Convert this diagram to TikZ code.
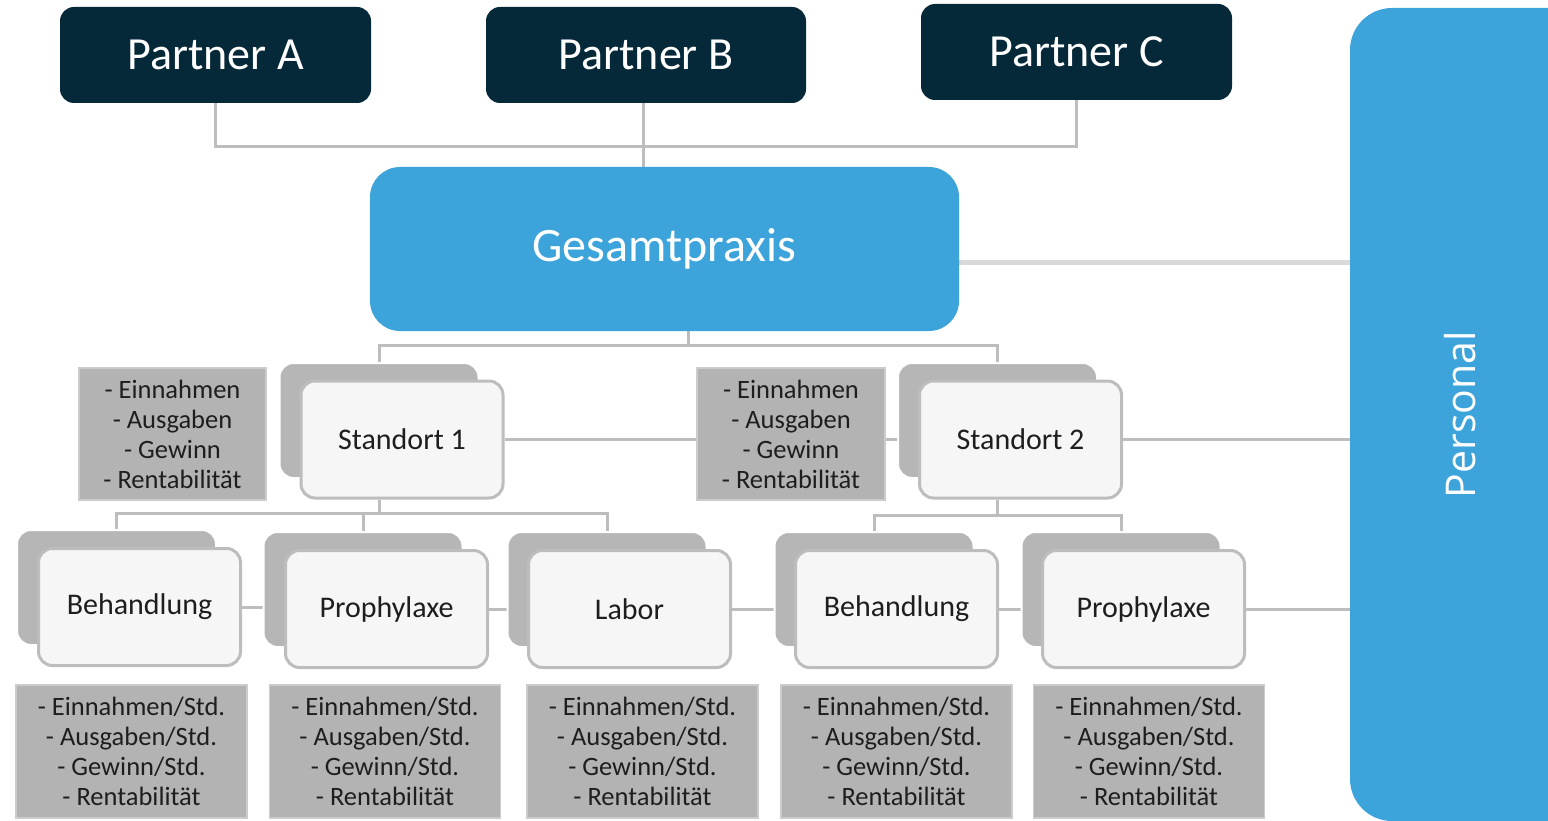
\documentclass[tikz,border=0pt]{standalone}
\usepackage{fontspec}
\setmainfont{Carlito}
\newfontfamily\persfont{Open Sans}
\usetikzlibrary{backgrounds}
\definecolor{navy}{HTML}{06293A}
\definecolor{skyblue}{HTML}{3DA4DB}
\definecolor{shadowgray}{HTML}{B6B6B6}
\definecolor{boxgray}{HTML}{B3B3B3}
\definecolor{linegray}{HTML}{BDBDBD}
\definecolor{frontfill}{HTML}{F6F6F6}
\definecolor{textdark}{HTML}{1E1E1E}

\begin{document}
\begin{tikzpicture}[x=1pt,y=-1pt,
  partner node/.style={rectangle,rounded corners=14pt,fill=navy,text=white,
    minimum width=311pt,minimum height=96pt,font=\fontsize{46}{50}\selectfont},
  main node/.style={rectangle,rounded corners=30pt,fill=skyblue,text=white,
    minimum width=589pt,minimum height=164pt,font=\fontsize{48}{52}\selectfont},
  back node/.style={rectangle,rounded corners=14pt,fill=shadowgray,draw=white,line width=2pt,
    minimum width=199pt,minimum height=115pt},
  front node/.style={rectangle,rounded corners=14pt,fill=frontfill,draw=linegray,line width=3pt,
    minimum width=202pt,minimum height=117pt,text=textdark,font=\fontsize{30}{34}\selectfont},
  info node/.style={rectangle,fill=boxgray,draw=shadowgray!70,line width=1.5pt,align=center,
    text=textdark,font=\fontsize{26.5}{30}\selectfont},
  con/.style={draw=linegray,line width=3pt}]

  \useasboundingbox (0,0) rectangle (1548,821);
  \clip (0,0) rectangle (1548,821);

  \node[partner node] (pa) at (215.5,55) {Partner A};
  \node[partner node,minimum width=320pt] (pb) at (646,55) {Partner B};
  \node[partner node] (pc) at (1076.5,52) {Partner C};
  \node[main node] (gp) at (664.5,249) {Gesamtpraxis};
  \node[rectangle,rounded corners=42pt,fill=skyblue,minimum width=400pt,minimum height=813pt]
    (per) at (1550,414.5) {};
  \node[text=white,rotate=90,font=\persfont\fontsize{41}{46}\selectfont]
    (pertext) at (1460,414.5) {Personal};

  \node[back node] (s1b) at (379,420.5) {};
  \node[front node] (s1) at (402,439.5) {Standort 1};
  \node[back node] (s2b) at (997.5,420.5) {};
  \node[front node] (s2) at (1020.5,439.5) {Standort 2};

  \node[info node,minimum width=187pt,minimum height=132pt] (i1) at (172.5,434)
    {- Einnahmen\\- Ausgaben\\- Gewinn\\- Rentabilität};
  \node[info node,minimum width=188pt,minimum height=132pt] (i2) at (791,434)
    {- Einnahmen\\- Ausgaben\\- Gewinn\\- Rentabilität};

  \node[back node] (b1b) at (116.5,587.5) {};
  \node[front node] (b1) at (139.5,607) {Behandlung};
  \node[back node] (p1b) at (363,589.5) {};
  \node[front node] (p1) at (386.5,609) {Prophylaxe};
  \node[back node] (lb) at (607,589.5) {};
  \node[front node] (l) at (629.5,609) {Labor};
  \node[back node] (b2b) at (874,589.5) {};
  \node[front node] (b2) at (896.5,609) {Behandlung};
  \node[back node] (p2b) at (1121,589.5) {};
  \node[front node] (p2) at (1143.5,609) {Prophylaxe};

  \node[info node,minimum width=231pt,minimum height=133pt] (k1) at (131.5,751.5)
    {- Einnahmen/Std.\\- Ausgaben/Std.\\- Gewinn/Std.\\- Rentabilität};
  \node[info node,minimum width=231pt,minimum height=133pt] (k2) at (385,751.5)
    {- Einnahmen/Std.\\- Ausgaben/Std.\\- Gewinn/Std.\\- Rentabilität};
  \node[info node,minimum width=231pt,minimum height=133pt] (k3) at (642.5,751.5)
    {- Einnahmen/Std.\\- Ausgaben/Std.\\- Gewinn/Std.\\- Rentabilität};
  \node[info node,minimum width=231pt,minimum height=133pt] (k4) at (896.5,751.5)
    {- Einnahmen/Std.\\- Ausgaben/Std.\\- Gewinn/Std.\\- Rentabilität};
  \node[info node,minimum width=231pt,minimum height=133pt] (k5) at (1149,751.5)
    {- Einnahmen/Std.\\- Ausgaben/Std.\\- Gewinn/Std.\\- Rentabilität};

  \coordinate (jp) at (643,147);
  \coordinate (jg) at (688,345);
  \coordinate (j1) at (379,513);
  \coordinate (j2) at (997.5,515);
  \coordinate (gpr) at (959,263);

  \begin{scope}[on background layer]
  \draw[con] (pa.south) |- (jp) -| (pc.south);
  \draw[con] (jp |- pb.south) -- (jp |- gp.north);
  \draw[con] (jg |- gp.south) -- (jg);
  \draw[con] (s1b.north) |- (jg) -| (s2b.north);
  \draw[con] (j1 |- s1.south) -- (j1);
  \draw[con] (b1b.north) |- (j1) -| (lb.north);
  \draw[con] (j1 -| p1b.north) -- (p1b.north);
  \draw[con] (j2 |- s2.south) -- (j2);
  \draw[con] (b2b.north) |- (j2) -| (p2b.north);
  \draw[draw=black!15,line width=5pt] (gpr) -- (gpr -| per.west);
  \path[con]
   (s1.east) edge (s1.east -| i2.west)
   (i2.east |- s1.east) edge (s1.east -| s2b.west)
   (s2.east) edge (s2.east -| per.west)
   (b1.east) edge (b1.east -| p1b.west)
   (p1.east) edge (p1.east -| lb.west)
   (l.east) edge (l.east -| b2b.west)
   (b2.east) edge (b2.east -| p2b.west)
   (p2.east) edge (p2.east -| per.west);
  \end{scope}
\end{tikzpicture}
\end{document}
